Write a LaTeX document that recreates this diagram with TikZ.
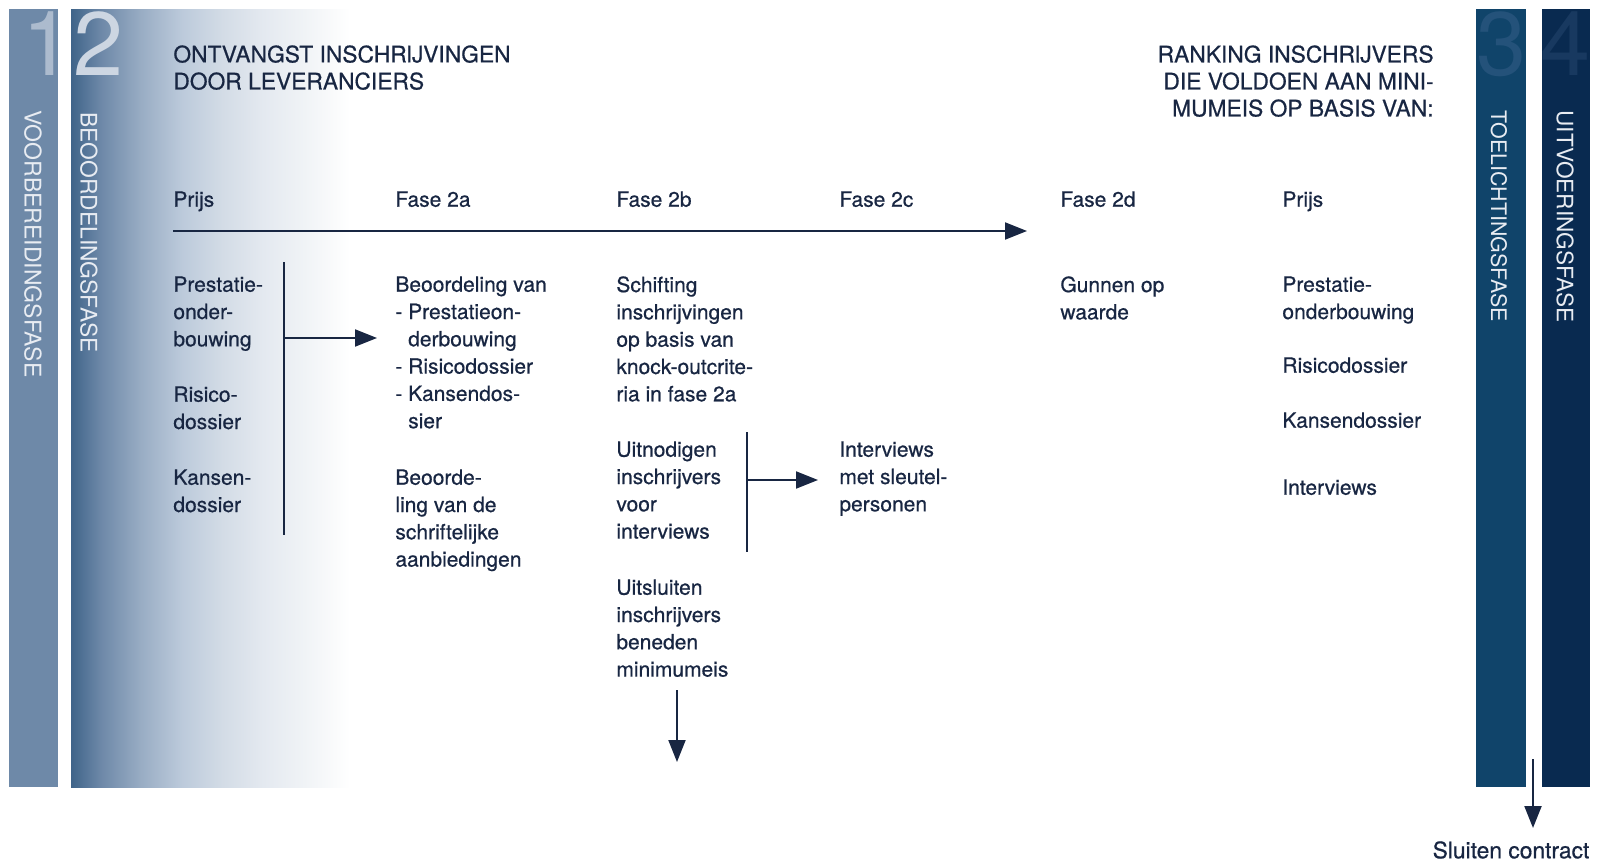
\documentclass[tikz,border=0pt]{standalone}
\usepackage{fontspec}
\setmainfont{TeX Gyre Heros}[RawFeature={embolden=0.6}]
\newfontfamily\barfont{TeX Gyre Heros}
\usetikzlibrary{arrows.meta}

\definecolor{ink}{RGB}{24,38,66}
\definecolor{barone}{RGB}{110,137,168}
\definecolor{bartwo}{RGB}{63,100,137}
\definecolor{barthree}{RGB}{16,68,106}
\definecolor{barfour}{RGB}{9,42,80}
\definecolor{numone}{RGB}{172,187,206}
\definecolor{numtwo}{RGB}{205,214,226}
\definecolor{numthree}{RGB}{36,82,122}
\definecolor{numfour}{RGB}{24,57,96}
\definecolor{barlabel}{RGB}{232,236,242}
\definecolor{fadeA}{RGB}{109,136,168}
\definecolor{fadeB}{RGB}{153,173,196}
\definecolor{fadeC}{RGB}{188,202,219}
\definecolor{fadeD}{RGB}{211,220,230}
\definecolor{fadeE}{RGB}{228,233,240}
\definecolor{fadeF}{RGB}{240,243,246}

\pgfdeclarehorizontalshading{fadebar}{100bp}{color(0bp)=(bartwo); color(25bp)=(bartwo);
  color(30.3bp)=(fadeA); color(37.6bp)=(fadeB); color(44.9bp)=(fadeC); color(52.2bp)=(fadeD);
  color(59.5bp)=(fadeE); color(66.8bp)=(fadeF); color(75bp)=(white); color(100bp)=(white)}

\tikzset{
  txt/.style={anchor=north west, inner sep=0pt, align=left, text=ink,
    font=\fontsize{10.5}{13.65}\selectfont},
  hdr/.style={inner sep=0pt, text=ink, font=\fontsize{11.4}{13.5}\selectfont},
  bartxt/.style={rotate=-90, anchor=west, inner sep=0pt, text=barlabel},
  barnum/.style={anchor=base west, inner sep=0pt, font=\barfont\fontsize{45}{45}\selectfont},
  arr/.style={draw=ink, line width=1pt, -{Triangle[length=11pt,width=8.5pt]}},
  bline/.style={draw=ink, line width=1pt}
}

\begin{document}
\begin{tikzpicture}[x=0.5pt, y=-0.5pt]
                \useasboundingbox (0,0) rectangle (1600,862);

                % Bars
                \fill[barone] (9,9) rectangle (58,787);
                \shade[shading=fadebar] (71,9) rectangle (350,787);
                \fill[barthree] (1476,9) rectangle (1526,787);
                \fill[barfour] (1542,9) rectangle (1590,787);
                \node[barnum, text=numone] (n1) at (22,75) {1};
                \node[barnum, text=numtwo] (n2) at (73,75) {2};
                \node[barnum, text=numthree] (n3) at (1476,75) {3};
                \node[barnum, text=numfour] (n4) at (1540,75) {4};
                \node[bartxt, font=\barfont\fontsize{11.5}{13}\selectfont] (voorb) at (33,110) {VOORBEREIDINGSFASE};
                \node[bartxt, font=\barfont\fontsize{11.4}{13}\selectfont] (beoord) at (89,112) {BEOORDELINGSFASE};
                \node[bartxt, font=\barfont\fontsize{10.7}{13}\selectfont] (toel) at (1499,110) {TOELICHTINGSFASE};
                \node[bartxt, font=\barfont\fontsize{11.3}{13}\selectfont] (uitv) at (1565,110) {UITVOERINGSFASE};

                % Headers
                \node[hdr, anchor=north west, align=left] (ontv) at (173,45)
                    {ONTVANGST INSCHRĲVINGEN\\DOOR LEVERANCIERS};
                \node[hdr, anchor=north east, align=right] (rank) at (1434,45)
                    {RANKING INSCHRĲVERS\\DIE VOLDOEN AAN MINI-\\MUMEIS OP BASIS VAN:};

                % Phases
                \node[txt] (prijs) at (173,191) {Prijs};
                \node[txt] (f2a) at (395,191) {Fase 2a};
                \node[txt] (f2b) at (616,191) {Fase 2b};
                \node[txt] (f2c) at (839,191) {Fase 2c};
                \node[txt] (f2d) at (1060,191) {Fase 2d};
                \node[txt] (prijs2) at (1282,191) {Prijs};

                % Nodes
                \node[txt] (pond) at (173,276) {Prestatie-\\onder-\\bouwing};
                \node[txt] (risico) at (173,386) {Risico-\\dossier};
                \node[txt] (kansen) at (173,469) {Kansen-\\dossier};
                \node[txt] (beo) at (395,276) {Beoordeling van\\- Prestatieon-\\\phantom{- }derbouwing\\- Risicodossier\\- Kansendos-\\\phantom{- }sier};
                \node[txt] (beoschr) at (395,469) {Beoorde-\\ling van de\\schriftelijke\\aanbiedingen};
                \node[txt] (schift) at (616,276) {Schifting\\inschrijvingen\\op basis van\\knock-outcrite-\\ria in fase 2a};
                \node[txt] (uitnod) at (616,441) {Uitnodigen\\inschrijvers\\voor\\interviews};
                \node[txt] (uitsl) at (616,579) {Uitsluiten\\inschrijvers\\beneden\\minimumeis};
                \node[txt] (interv) at (839,441) {Interviews\\met sleutel-\\personen};
                \node[txt] (gunnen) at (1060,276) {Gunnen op\\waarde};
                \node[txt] (pond2) at (1282,276) {Prestatie-\\onderbouwing};
                \node[txt] (risico2) at (1282,357) {Risicodossier};
                \node[txt] (kansen2) at (1282,412) {Kansendossier};
                \node[txt] (interv2) at (1282,479) {Interviews};
                \node[hdr, anchor=center] (sluit) at (1511,850) {Sluiten contract};

                % Coordinates
                \coordinate (tl0) at (173,231);
                \coordinate (tl1) at (1027,231);
                \coordinate (b1t) at (284,262);
                \coordinate (b1b) at (284,535);
                \coordinate (b1m) at (284,338);
                \coordinate (b1e) at (377,338);
                \coordinate (b2t) at (747,432);
                \coordinate (b2b) at (747,552);
                \coordinate (b2m) at (747,480);
                \coordinate (b2e) at (818,480);
                \coordinate (dn0) at (677,690);
                \coordinate (dn1) at (677,762);
                \coordinate (sl0) at (1533,759);
                \coordinate (sl1) at (1533,828);

                % Edges
                \draw[arr] (tl0)--(tl1);
                \draw[bline] (b1t)--(b1b);
                \draw[arr] (b1m)--(b1e);
                \draw[bline] (b2t)--(b2b);
                \draw[arr] (b2m)--(b2e);
                \draw[arr] (dn0)--(dn1);
                \draw[arr] (sl0)--(sl1);
            \end{tikzpicture}
\end{document}
